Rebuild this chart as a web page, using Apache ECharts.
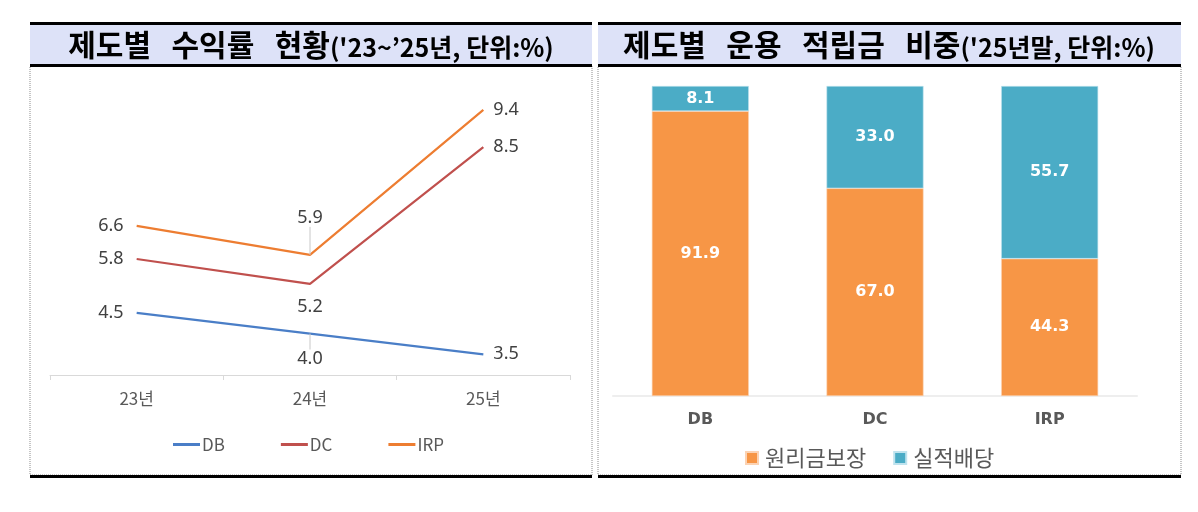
<!DOCTYPE html>
<html>
<head>
<meta charset="utf-8">
<script src="https://cdn.jsdelivr.net/npm/echarts@6/dist/echarts.min.js"></script>
<style>
  html, body { margin: 0; padding: 0; background: #fff; }
  #main { width: 1198px; height: 512px; }
</style>
</head>
<body>
<div id="main"></div>
<script>
// 왼쪽: 제도별 수익률
var years = ['23년', '24년', '25년'];
var dbRate = [4.5, 4.0, 3.5];
var dcRate = [5.8, 5.2, 8.5];
var irpRate = [6.6, 5.9, 9.4];

// 오른쪽: 운용 적립금 비중
var plans = ['DB', 'DC', 'IRP'];
var guaranteed = [91.9, 67.0, 44.3];
var performance = [8.1, 33.0, 55.7];

var lineColors = ['#4a7ec7', '#c0504d', '#ed7d31'];
var barColors = ['#f79646', '#4bacc6'];
var font = '"Noto Sans CJK KR", "Noto Sans", sans-serif';

// 양끝은 좌/우, 24년은 위/아래 (가이드선은 밀어낸 라벨만)
function lineData(vals, midPos, midDist, midGuide) {
  return vals.map(function (v, i) {
    var pos = i === 0 ? 'left' : (i === 2 ? 'right' : midPos);
    var dist = i === 0 ? 13 : (i === 2 ? 10 : midDist);
    return {
      value: v,
      label: { position: pos, distance: dist },
      labelLine: { show: i === 1 && midGuide }
    };
  });
}

function lineSeries(name, vals, color, midPos, midDist, midShift) {
  return {
    name: name,
    type: 'line',
    xAxisIndex: 0,
    yAxisIndex: 0,
    data: lineData(vals, midPos, midDist, midShift !== 0),
    symbol: 'circle',
    symbolSize: 0.01,
    lineStyle: { color: color, width: 2.2 },
    itemStyle: { color: color },
    label: {
      show: true,
      color: '#404040',
      fontSize: 18,
      fontFamily: '"Noto Sans", sans-serif',
      formatter: function (p) { return p.value.toFixed(1); }
    },
    labelLayout: function (p) {
      if (p.dataIndex === 1 && midShift) return { dy: midShift };
      return {};
    },
    labelLine: { show: false, length2: 0, lineStyle: { color: '#c8c8c8', width: 1 } },
    animation: false
  };
}

function panelFrame(x, w) {
  return [
    { type: 'rect', shape: { x: x, y: 24, width: w, height: 41 }, style: { fill: '#dde2f8' } },
    { type: 'rect', shape: { x: x, y: 66, width: w, height: 409 },
      style: { fill: 'none', stroke: '#8c8c8c', lineWidth: 1, lineDash: [1, 1] } },
    { type: 'rect', shape: { x: x, y: 22, width: w, height: 3 }, style: { fill: '#000' } },
    { type: 'rect', shape: { x: x, y: 64, width: w, height: 3 }, style: { fill: '#000' } },
    { type: 'rect', shape: { x: x, y: 475, width: w, height: 3 }, style: { fill: '#000' } }
  ];
}

var titleRich = {
  a: { fontSize: 30, fontWeight: 'bold', color: '#000', fontFamily: font, lineHeight: 40 },
  s: { fontSize: 30, fontFamily: font, lineHeight: 40 },
  b: { fontSize: 25, fontWeight: 'bold', color: '#000', fontFamily: font, lineHeight: 40, padding: [5, 0, 0, 0] }
};

var option = {
  animation: false,
  graphic: panelFrame(30, 562).concat(panelFrame(598, 583)),
  title: [
    { text: '{a|제도별}{s|   }{a|수익률}{s|   }{a|현황}{b|(\'23~’25년, 단위:%)}', left: 311, top: 25,
      textAlign: 'center', padding: 0, textStyle: { rich: titleRich } },
    { text: '{a|제도별}{s|   }{a|운용}{s|   }{a|적립금}{s|   }{a|비중}{b|(\'25년말, 단위:%)}', left: 889, top: 25,
      textAlign: 'center', padding: 0, textStyle: { rich: titleRich } }
  ],
  legend: [
    {
      data: ['DB', 'DC', 'IRP'],
      left: 173, top: 436, padding: 0,
      itemWidth: 27, itemHeight: 3, itemGap: 56,
      icon: 'rect',
      textStyle: { color: '#595959', fontSize: 17, fontFamily: font, padding: [0, 0, 0, -3] }
    },
    {
      data: ['원리금보장', '실적배당'],
      left: 745, top: 447, padding: 0,
      itemWidth: 12, itemHeight: 12, itemGap: 27,
      icon: 'rect',
      textStyle: { color: '#595959', fontSize: 22, fontFamily: font, padding: [0, 0, 0, 2] }
    }
  ],
  grid: [
    { left: 50, right: 628, top: 85, bottom: 137 },
    { left: 613, right: 61, top: 86, bottom: 116 }
  ],
  xAxis: [
    {
      type: 'category', gridIndex: 0, data: years, boundaryGap: true,
      axisLine: { lineStyle: { color: '#d9d9d9', width: 1 } },
      axisTick: { show: true, length: 5, lineStyle: { color: '#d9d9d9' } },
      axisLabel: { color: '#595959', fontSize: 17, margin: 15, fontFamily: font }
    },
    {
      type: 'category', gridIndex: 1, data: plans,
      axisLine: { lineStyle: { color: '#eeeeee', width: 2 } },
      axisTick: { show: false },
      axisLabel: { color: '#595959', fontSize: 16, fontWeight: 'bold', margin: 16,
        fontFamily: '"DejaVu Sans", sans-serif' }
    }
  ],
  yAxis: [
    { type: 'value', gridIndex: 0, min: 3, max: 10, show: false, splitLine: { show: false } },
    { type: 'value', gridIndex: 1, min: 0, max: 100, show: false, splitLine: { show: false } }
  ],
  series: [
    lineSeries('DB', dbRate, lineColors[0], 'bottom', 6, 10),
    lineSeries('DC', dcRate, lineColors[1], 'bottom', 14, 0),
    lineSeries('IRP', irpRate, lineColors[2], 'top', 8, -20),
    {
      name: '원리금보장', type: 'bar', stack: 'total', xAxisIndex: 1, yAxisIndex: 1,
      data: guaranteed, barWidth: 97,
      itemStyle: { color: barColors[0], borderColor: '#fbd3b4', borderWidth: 0.6 },
      label: { show: true, position: 'inside', color: '#fff', fontSize: 16, fontWeight: 'bold',
        fontFamily: '"DejaVu Sans", sans-serif', formatter: function (p) { return p.value.toFixed(1); } }
    },
    {
      name: '실적배당', type: 'bar', stack: 'total', xAxisIndex: 1, yAxisIndex: 1,
      data: performance, barWidth: 97,
      itemStyle: { color: barColors[1], borderColor: '#bfe3ee', borderWidth: 0.6 },
      label: { show: true, position: 'inside', color: '#fff', fontSize: 16, fontWeight: 'bold',
        fontFamily: '"DejaVu Sans", sans-serif', formatter: function (p) { return p.value.toFixed(1); } }
    }
  ]
};

var chart = echarts.init(document.getElementById('main'));
chart.setOption(option);
</script>
</body>
</html>
